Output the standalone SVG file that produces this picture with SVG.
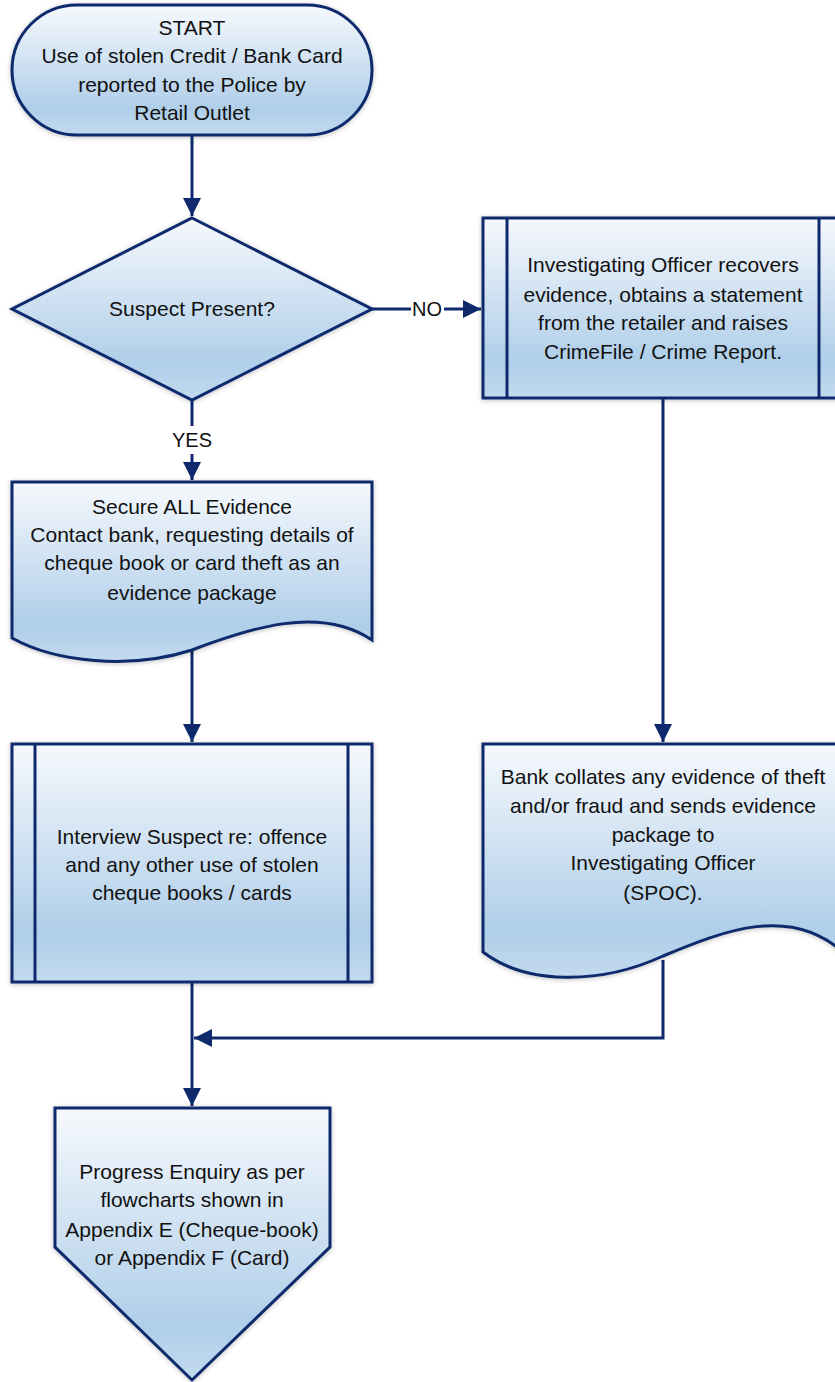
<svg xmlns="http://www.w3.org/2000/svg" width="835" height="1382" viewBox="0 0 835 1382">
<defs>
<linearGradient id="g" x1="0" y1="0" x2="0" y2="1">
<stop offset="0" stop-color="#f6f9fd"/>
<stop offset="0.8" stop-color="#afcee9"/>
<stop offset="1" stop-color="#c3daef"/>
</linearGradient>
<filter id="sh" x="-10%" y="-10%" width="120%" height="120%">
<feGaussianBlur in="SourceAlpha" stdDeviation="2.5"/>
<feOffset dx="0" dy="1" result="b"/>
<feComponentTransfer><feFuncA type="linear" slope="0.25"/></feComponentTransfer>
<feMerge><feMergeNode/><feMergeNode in="SourceGraphic"/></feMerge>
</filter>
<marker id="ah" viewBox="0 0 10 10" refX="10" refY="5" markerWidth="6" markerHeight="6" orient="auto" markerUnits="strokeWidth">
<path d="M0,0 L10,5 L0,10 z" fill="#0e2a6c"/>
</marker>
</defs>
<style>
.s{fill:url(#g);stroke:#0e2a6c;stroke-width:3;filter:url(#sh)}
.l{fill:none;stroke:#0e2a6c;stroke-width:3}
.c{stroke:#0e2a6c;stroke-width:3;fill:none}
text{font-family:"Liberation Sans",Arial,sans-serif;font-size:21px;fill:#111;text-anchor:middle}
.lb{font-size:20px}
</style>
<g id="connectors">
<path class="c" d="M192,135 V216" marker-end="url(#ah)"/>
<path class="c" d="M192,400 V426 M192,454 V480" marker-end="url(#ah)"/>
<path class="c" d="M372,309 H411 M444,309 H481" marker-end="url(#ah)"/>
<path class="c" d="M192,650 V742" marker-end="url(#ah)"/>
<path class="c" d="M663,398 V742" marker-end="url(#ah)"/>
<path class="c" d="M192,982 V1106" marker-end="url(#ah)"/>
<path class="c" d="M663,960 V1038 H194" marker-end="url(#ah)"/>
<text class="lb" x="427" y="316">NO</text>
<text class="lb" x="192" y="447">YES</text>
</g>
<g id="start">
<rect class="s" x="12" y="5" width="360" height="130" rx="65" ry="65"/>
<text x="192" y="35">START</text>
<text x="192" y="63">Use of stolen Credit / Bank Card</text>
<text x="192" y="92">reported to the Police by</text>
<text x="192" y="120">Retail Outlet</text>
</g>
<g id="decision">
<path class="s" d="M192,218 L372,309 L192,400 L12,309 Z"/>
<text x="192" y="316">Suspect Present?</text>
</g>
<g id="investigate">
<rect class="s" x="483" y="218" width="360" height="180"/>
<path class="l" d="M507,218 V398 M819,218 V398"/>
<text x="663" y="272">Investigating Officer recovers</text>
<text x="663" y="302">evidence, obtains a statement</text>
<text x="663" y="330">from the retailer and raises</text>
<text x="663" y="359">CrimeFile / Crime Report.</text>
</g>
<g id="secure">
<path class="s" d="M12,482 H372 V640 C320,605 250,628 192,650 C130,670 55,662 12,638 Z"/>
<text x="192" y="514">Secure ALL Evidence</text>
<text x="192" y="542">Contact bank, requesting details of</text>
<text x="192" y="570">cheque book or card theft as an</text>
<text x="192" y="600">evidence package</text>
</g>
<g id="interview">
<rect class="s" x="12" y="744" width="360" height="238"/>
<path class="l" d="M35,744 V982 M348,744 V982"/>
<text x="192" y="844">Interview Suspect re: offence</text>
<text x="192" y="872">and any other use of stolen</text>
<text x="192" y="900">cheque books / cards</text>
</g>
<g id="bank">
<path class="s" d="M483,744 H843 V952 C790,905 725,930 663,956 C600,985 526,985 483,952 Z"/>
<text x="663" y="784">Bank collates any evidence of theft</text>
<text x="663" y="813">and/or fraud and sends evidence</text>
<text x="663" y="842">package to</text>
<text x="663" y="870">Investigating Officer</text>
<text x="663" y="900">(SPOC).</text>
</g>
<g id="progress">
<path class="s" d="M55,1108 H330 V1247 L192,1380 L55,1247 Z"/>
<text x="192" y="1179">Progress Enquiry as per</text>
<text x="192" y="1207">flowcharts shown in</text>
<text x="192" y="1237">Appendix E (Cheque-book)</text>
<text x="192" y="1265">or Appendix F (Card)</text>
</g>
</svg>
